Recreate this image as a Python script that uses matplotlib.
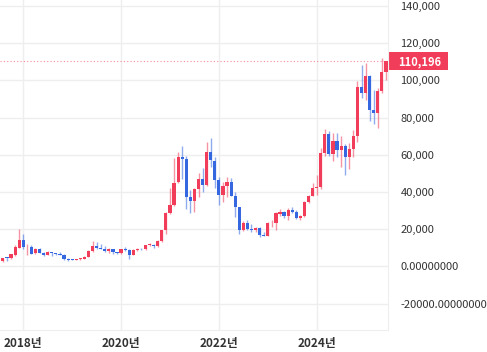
import numpy as np
import matplotlib
matplotlib.use("Agg")
import matplotlib.pyplot as plt
from matplotlib.patches import Rectangle
from matplotlib.transforms import blended_transform_factory

plt.rcParams['font.family'] = ['Noto Sans CJK KR', 'DejaVu Sans']

# monthly candles, Aug 2017 .. Jun 2025
months = ["2017-08", "2017-09", "2017-10", "2017-11", "2017-12",
          "2018-01", "2018-02", "2018-03", "2018-04", "2018-05", "2018-06",
          "2018-07", "2018-08", "2018-09", "2018-10", "2018-11", "2018-12",
          "2019-01", "2019-02", "2019-03", "2019-04", "2019-05", "2019-06",
          "2019-07", "2019-08", "2019-09", "2019-10", "2019-11", "2019-12",
          "2020-01", "2020-02", "2020-03", "2020-04", "2020-05", "2020-06",
          "2020-07", "2020-08", "2020-09", "2020-10", "2020-11", "2020-12",
          "2021-01", "2021-02", "2021-03", "2021-04", "2021-05", "2021-06",
          "2021-07", "2021-08", "2021-09", "2021-10", "2021-11", "2021-12",
          "2022-01", "2022-02", "2022-03", "2022-04", "2022-05", "2022-06",
          "2022-07", "2022-08", "2022-09", "2022-10", "2022-11", "2022-12",
          "2023-01", "2023-02", "2023-03", "2023-04", "2023-05", "2023-06",
          "2023-07", "2023-08", "2023-09", "2023-10", "2023-11", "2023-12",
          "2024-01", "2024-02", "2024-03", "2024-04", "2024-05", "2024-06",
          "2024-07", "2024-08", "2024-09", "2024-10", "2024-11", "2024-12",
          "2025-01", "2025-02", "2025-03", "2025-04", "2025-05", "2025-06"]

opens = [2871, 4701, 4341, 6440, 10198,
         14112, 10237, 10385, 7003, 9251, 7500,
         6411, 7769, 7044, 6619, 6318, 4025,
         3746, 3460, 3853, 4105, 5350, 8573,
         10796, 10077, 9630, 8299, 9193, 7571,
         7194, 9346, 8599, 6437, 8672, 9463,
         9145, 11322, 11679, 10795, 13791, 19633,
         28995, 33114, 45160, 58926, 57825, 37293,
         35035, 41460, 47099, 43816, 61320, 56907,
         46311, 38481, 43194, 45554, 37713, 31792,
         19820, 23296, 20050, 19431, 20495, 17168,
         16548, 23138, 23150, 28473, 29269, 27219,
         30472, 29232, 25935, 26967, 34657, 37718,
         42280, 42569, 61168, 71334, 60609, 67489,
         62673, 64626, 58970, 63335, 70216, 96461,
         93425, 102405, 84373, 82515, 94207, 104638]

highs = [4736, 4976, 6470, 11517, 20089,
         17712, 11958, 11711, 9745, 9964, 7754,
         8425, 7769, 7388, 7680, 6552, 4310,
         4109, 4210, 4296, 5642, 9074, 13797,
         13129, 12273, 10898, 10021, 9505, 7743,
         9553, 10500, 9167, 9460, 10067, 10199,
         11415, 12359, 12067, 14028, 19749, 29244,
         41946, 58330, 61683, 64863, 59464, 41295,
         42235, 50482, 52853, 66930, 68789, 59041,
         47945, 45661, 48086, 47313, 39903, 31957,
         24572, 25135, 22673, 20988, 21446, 18319,
         23919, 25134, 29160, 30969, 29820, 31390,
         31814, 30176, 27488, 35150, 38415, 44705,
         48969, 63913, 73750, 72715, 71947, 71907,
         69987, 65593, 66480, 73577, 99655, 108268,
         109114, 102755, 95043, 95758, 111970, 110500]

lows = [2580, 2976, 4110, 5519, 9671,
        9402, 6048, 6600, 6526, 7090, 5826,
        6111, 5880, 6172, 6177, 3652, 3191,
        3401, 3400, 3707, 4096, 5332, 7564,
        9163, 9421, 7830, 7446, 6617, 6540,
        6915, 8471, 4107, 6202, 8130, 8975,
        8977, 10982, 9916, 10416, 13243, 17619,
        28130, 32385, 45115, 47160, 30681, 28893,
        29360, 37458, 39787, 43321, 53569, 42001,
        33184, 34459, 37260, 37697, 26700, 17708,
        18966, 19600, 18290, 18320, 15599, 16398,
        16521, 21451, 19628, 27070, 25880, 24797,
        28934, 25409, 24901, 26560, 34121, 37629,
        38521, 41884, 59323, 59120, 56555, 58601,
        53717, 49121, 52598, 58895, 66835, 90743,
        89256, 78258, 76606, 74436, 93405, 100400]

closes = [4703, 4338, 6468, 10233, 14156,
          10221, 10397, 6973, 9240, 7494, 6404,
          7780, 7037, 6625, 6318, 4017, 3743,
          3457, 3854, 4105, 5350, 8574, 10817,
          10085, 9630, 8293, 9199, 7569, 7193,
          9350, 8599, 6438, 8658, 9462, 9138,
          11323, 11680, 10784, 13780, 19625, 29002,
          33114, 45137, 58918, 57750, 37332, 35040,
          41626, 47166, 43791, 61318, 57005, 46306,
          38483, 43193, 45538, 37714, 31792, 19785,
          23336, 20049, 19431, 20495, 17168, 16548,
          23139, 23147, 28478, 29268, 27219, 30478,
          29230, 25932, 26967, 34668, 37713, 42265,
          42582, 61198, 71333, 60636, 67491, 62678,
          64619, 58969, 63329, 70215, 96449, 93429,
          102405, 84373, 82548, 94207, 104638, 110196]

year_ticks = ["2018-01", "2020-01", "2022-01", "2024-01"]
year_labels = ["2018년", "2020년", "2022년", "2024년"]
y_ticks = [-20000, 0, 20000, 40000, 60000, 80000, 100000, 120000, 140000]
y_labels = ["-20000.00000000", "0.00000000", "20,000", "40,000", "60,000",
            "80,000", "100,000", "120,000", "140,000"]
last_price = closes[-1]

up_col = "#F23D5A"
down_col = "#3567E0"
grid_col = "#EEEEEE"

fig = plt.figure(figsize=(4.87, 3.52), dpi=100)
ax = fig.add_axes([0, 22 / 352, 388 / 487, 330 / 352])

o = np.array(opens, float)
h = np.array(highs, float)
l = np.array(lows, float)
c = np.array(closes, float)
x = np.arange(len(months))
up = c >= o
cols = np.where(up, up_col, down_col)

body_bottom = np.minimum(o, c)
body_h = np.maximum(np.abs(c - o), 500)

ax.vlines(x, l, h, colors=cols, linewidth=1.0, alpha=0.55, zorder=2)
ax.bar(x, body_h, bottom=body_bottom, width=0.78, color=cols, linewidth=0, zorder=3)

ax.set_xlim(-0.71, 94.5)
ax.set_ylim(-34136, 143225)

ax.set_xticks([months.index(m) for m in year_ticks])
ax.set_xticklabels(year_labels)
ax.set_yticks(y_ticks)
ax.yaxis.tick_right()
ax.set_yticklabels(y_labels)
ax.tick_params(axis='both', length=0, labelsize=8, colors="#333333")
ax.tick_params(axis='y', pad=9)
ax.tick_params(axis='x', pad=5)
for t in ax.get_xticklabels():
    t.set_fontweight('bold')
    t.set_fontsize(8.5)

ax.grid(True, color=grid_col, linewidth=1.0, zorder=0)
ax.set_axisbelow(True)
for s in ['top', 'left']:
    ax.spines[s].set_visible(False)
ax.spines['right'].set_color(grid_col)
ax.spines['bottom'].set_color(grid_col)

# current price line and label
ax.axhline(last_price, color=up_col, linestyle=(0, (1, 2)), linewidth=0.8,
           alpha=0.6, zorder=1)
tr = blended_transform_factory(ax.transAxes, ax.transData)
box_h = 18 / 37.21 * 20000
ax.add_patch(Rectangle((1.0, last_price - box_h / 2), 60 / 388, box_h,
                       transform=tr, facecolor=up_col, edgecolor='none', clip_on=False))
ax.text(1.0 + 10 / 388, last_price, f"{last_price:,.0f}", transform=tr,
        ha='left', va='center', color='white', fontsize=8, fontweight='bold')

fig.savefig("out.png", dpi=100)
